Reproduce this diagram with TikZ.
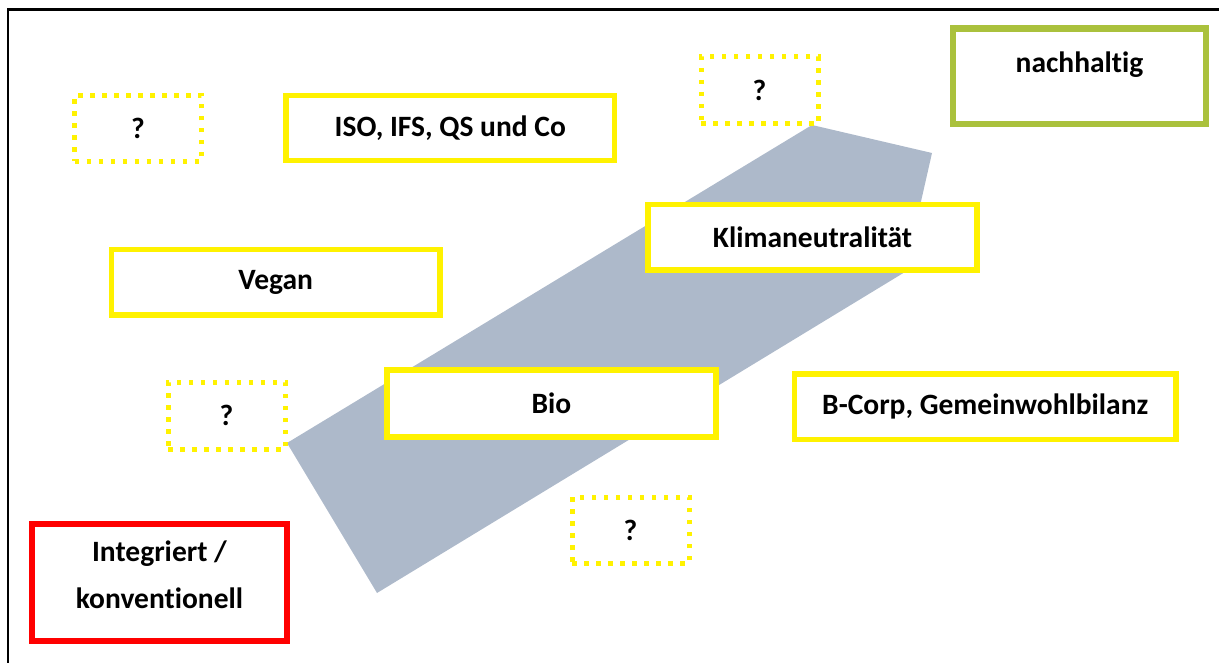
\documentclass[tikz,border=0pt]{standalone}
\usepackage{fontspec}
\setmainfont{Carlito}[Ligatures=NoCommon]
\begin{document}
\begin{tikzpicture}[x=1pt,y=-1pt,
  every node/.style={font=\fontsize{29.5}{47}\selectfont\bfseries, text=black, align=center, inner sep=0pt},
  labelbox/.style={draw=yellow, fill=white, line width=5.5pt, rectangle},
  openbox/.style={draw=yellow, fill=white, line width=5pt, line cap=butt, dash pattern=on 4.5pt off 7.5pt},
  goalbox/.style={draw=limegreen, fill=white, line width=6.5pt},
  basebox/.style={draw=red, fill=white, line width=6pt},
  band/.style={fill=bandgray, draw=none}]
\definecolor{limegreen}{RGB}{170,193,60}
\definecolor{bandgray}{RGB}{173,185,202}
\useasboundingbox (0,0) rectangle (1219,663);
% frame
\draw[line width=2.3pt] (8,663) -- (8,9.5) -- (1219,9.5);
% diagonal band from conventional towards sustainable
\fill[band] (287,443) -- (377,593) -- (905,272) -- (932,153) -- (812,125) -- cycle;
% boxes
\node[openbox, minimum width=127pt, minimum height=66pt] (q1) at (138,128.5) {?};
\node[labelbox, minimum width=328.5pt, minimum height=65pt] (iso) at (450.25,128) {ISO, IFS, QS und Co};
\node[openbox, minimum width=117pt, minimum height=67pt] (q2) at (759.5,90.5) {?};
\node[goalbox, minimum width=253pt, minimum height=95.5pt, text height=20pt, text depth=28pt] (nach) at (1079.5,76.25) {nachhaltig};
\node[labelbox, minimum width=328.5pt, minimum height=65.5pt] (vegan) at (275.75,282.25) {Vegan};
\node[labelbox, minimum width=329pt, minimum height=65.5pt] (klima) at (812.5,237.25) {Klimaneutralität};
\node[openbox, minimum width=117pt, minimum height=67pt] (q3) at (226.5,415.5) {?};
\node[labelbox, minimum width=329pt, minimum height=67pt] (bio) at (551.5,403.5) {Bio};
\node[labelbox, minimum width=381.5pt, minimum height=65.5pt] (bcorp) at (985.25,406.75) {B-Corp, Gemeinwohlbilanz};
\node[openbox, minimum width=117pt, minimum height=66pt] (q4) at (630.5,530) {?};
\node[basebox, minimum width=255pt, minimum height=117pt, text height=68pt, text depth=17pt] (konv) at (159.5,582.5) {Integriert /\\konventionell};
\end{tikzpicture}
\end{document}
